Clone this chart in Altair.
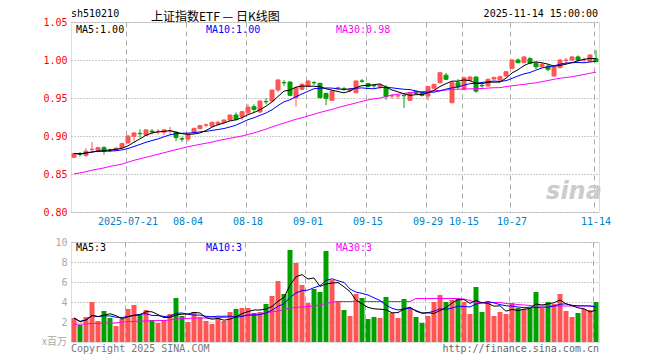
import altair as alt
import pandas as pd

# ---------------- data ----------------
dates = [d.strftime("%Y-%m-%d") for d in pd.bdate_range("2025-07-08", "2025-11-14")
         if not ("2025-10-01" <= d.strftime("%Y-%m-%d") <= "2025-10-08")]

opens = [0.872, 0.8765, 0.8746, 0.8822, 0.880, 0.8846, 0.8815, 0.8815, 0.8846, 0.891,
         0.8996, 0.9035, 0.901, 0.9065, 0.9058, 0.905, 0.9068, 0.905, 0.8965, 0.896,
         0.9043, 0.9096, 0.9143, 0.913, 0.9155, 0.918, 0.921, 0.9276, 0.9254, 0.9307,
         0.9386, 0.9316, 0.9455, 0.946, 0.9605, 0.9703, 0.971, 0.9504, 0.9614, 0.9658,
         0.9703, 0.9693, 0.956, 0.947, 0.962, 0.9625, 0.960, 0.957, 0.9725, 0.969,
         0.9665, 0.965, 0.9645, 0.9527, 0.9527, 0.9533, 0.947, 0.9585, 0.957, 0.9526,
         0.9628, 0.9701, 0.980, 0.9438, 0.970, 0.9614, 0.9733, 0.9776, 0.9665, 0.9658,
         0.975, 0.9737, 0.979, 0.989, 1.000, 0.9965, 1.0017, 0.9957, 0.991, 0.992,
         0.979, 0.990, 0.9992, 1.000, 1.004, 1.000, 0.998, 1.0017]
highs = [0.878, 0.879, 0.884, 0.892, 0.886, 0.8868, 0.8835, 0.885, 0.8915, 0.901,
         0.905, 0.9088, 0.909, 0.909, 0.909, 0.909, 0.912, 0.906, 0.899, 0.903,
         0.911, 0.914, 0.9165, 0.919, 0.920, 0.922, 0.928, 0.931, 0.933, 0.9417,
         0.9417, 0.947, 0.950, 0.961, 0.9745, 0.9737, 0.972, 0.965, 0.970, 0.973,
         0.9725, 0.970, 0.957, 0.960, 0.965, 0.9645, 0.963, 0.973, 0.975, 0.970,
         0.968, 0.969, 0.967, 0.955, 0.955, 0.9555, 0.958, 0.960, 0.958, 0.966,
         0.969, 0.984, 0.983, 0.971, 0.975, 0.978, 0.979, 0.978, 0.968, 0.9755,
         0.978, 0.9795, 0.9855, 1.001, 1.002, 1.005, 1.004, 0.998, 0.996, 0.994,
         0.992, 1.001, 1.003, 1.005, 1.006, 1.003, 1.007, 1.013]
lows = [0.871, 0.873, 0.8724, 0.880, 0.8795, 0.8754, 0.879, 0.881, 0.884, 0.890,
        0.893, 0.8978, 0.900, 0.902, 0.902, 0.9015, 0.9015, 0.893, 0.8925, 0.8925,
        0.9035, 0.909, 0.9115, 0.912, 0.9135, 0.917, 0.920, 0.9205, 0.921, 0.929,
        0.9307, 0.930, 0.9416, 0.945, 0.958, 0.966, 0.953, 0.9386, 0.960, 0.965,
        0.967, 0.9495, 0.9404, 0.946, 0.961, 0.959, 0.958, 0.956, 0.970, 0.964,
        0.962, 0.962, 0.9475, 0.949, 0.9485, 0.937, 0.946, 0.955, 0.952, 0.947,
        0.961, 0.969, 0.9735, 0.943, 0.962, 0.960, 0.9725, 0.957, 0.9635, 0.965,
        0.974, 0.972, 0.978, 0.988, 0.9955, 0.996, 0.995, 0.988, 0.990, 0.985,
        0.978, 0.989, 0.994, 0.999, 0.998, 0.996, 0.997, 0.997]
closes = [0.877, 0.876, 0.880, 0.8826, 0.8846, 0.880, 0.881, 0.884, 0.890, 0.900,
          0.904, 0.903, 0.908, 0.9055, 0.9062, 0.908, 0.9072, 0.898, 0.896, 0.902,
          0.910, 0.9136, 0.9147, 0.918, 0.918, 0.921, 0.9276, 0.922, 0.932, 0.938,
          0.935, 0.946, 0.945, 0.9605, 0.9737, 0.970, 0.9535, 0.9636, 0.968, 0.9724,
          0.970, 0.9504, 0.9496, 0.959, 0.9635, 0.9615, 0.962, 0.9724, 0.972, 0.965,
          0.966, 0.967, 0.9517, 0.953, 0.953, 0.953, 0.957, 0.956, 0.9535, 0.965,
          0.968, 0.9833, 0.9746, 0.9701, 0.9645, 0.9767, 0.9776, 0.959, 0.966, 0.9746,
          0.977, 0.978, 0.9846, 1.000, 0.9965, 1.004, 0.9957, 0.991, 0.9943, 0.9877,
          0.9908, 1.000, 1.000, 1.004, 1.000, 1.0003, 1.0066, 0.998]
ma30 = [0.850, 0.8515, 0.853, 0.855, 0.8565, 0.858, 0.860, 0.8615, 0.863, 0.8655,
        0.868, 0.870, 0.872, 0.874, 0.876, 0.878, 0.880, 0.882, 0.884, 0.886,
        0.8875, 0.889, 0.8905, 0.892, 0.894, 0.8955, 0.897, 0.8985, 0.900, 0.902,
        0.904, 0.9065, 0.909, 0.912, 0.9145, 0.917, 0.9195, 0.922, 0.924, 0.9265,
        0.9286, 0.931, 0.933, 0.935, 0.9375, 0.9395, 0.9415, 0.9435, 0.9455, 0.9475,
        0.949, 0.950, 0.952, 0.954, 0.955, 0.956, 0.957, 0.958, 0.9583, 0.959,
        0.9595, 0.960, 0.9605, 0.9614, 0.9615, 0.962, 0.962, 0.9625, 0.9625, 0.963,
        0.9635, 0.9636, 0.965, 0.966, 0.967, 0.968, 0.969, 0.970, 0.9715, 0.973,
        0.9746, 0.976, 0.977, 0.978, 0.9795, 0.981, 0.9825, 0.984]
volumes = [2.4, 1.7, 2.5, 4.0, 2.1, 3.1, 2.4, 1.6, 2.3, 3.3,
           3.7, 2.7, 3.2, 2.2, 1.9, 2.2, 2.8, 4.4, 2.6, 2.0,
           3.0, 2.5, 2.1, 1.8, 2.4, 2.1, 3.0, 3.3, 3.4, 3.4,
           2.9, 3.0, 3.8, 4.6, 6.1, 4.8, 9.2, 7.9, 5.7, 3.9,
           5.3, 5.0, 9.1, 6.2, 4.1, 3.2, 2.6, 4.8, 4.4, 2.3,
           2.5, 2.4, 4.5, 2.9, 2.4, 4.3, 3.3, 2.5, 1.9, 2.6,
           4.0, 4.7, 4.0, 4.2, 4.3, 4.0, 2.8, 5.5, 3.0, 4.0,
           2.6, 3.0, 2.8, 3.9, 3.4, 3.3, 3.4, 5.0, 3.4, 4.0,
           3.8, 4.8, 3.1, 2.5, 2.9, 3.3, 3.2, 4.0]
vol_ma30 = [1.77, 1.78, 1.8, 1.85, 1.85, 1.88, 1.9, 1.9, 2.0, 2.05,
            2.05, 2.1, 2.1, 2.12, 2.15, 2.15, 2.2, 2.3, 2.35, 2.35,
            2.4, 2.4, 2.4, 2.4, 2.45, 2.45, 2.5, 2.6, 2.65, 2.7,
            2.75, 2.8, 2.95, 3.0, 3.1, 3.25, 3.4, 3.45, 3.5, 3.55,
            3.6, 3.7, 3.85, 3.97, 4.05, 4.05, 4.05, 4.05, 4.05, 4.05,
            4.05, 4.05, 4.05, 4.05, 4.05, 4.05, 4.05, 4.35, 4.35, 4.35,
            4.35, 4.35, 4.35, 4.35, 4.35, 4.3, 4.15, 3.95, 3.95, 3.95,
            3.95, 3.95, 3.85, 3.8, 3.75, 3.7, 3.65, 3.6, 3.6, 3.6,
            3.6, 3.6, 3.6, 3.6, 3.6, 3.6, 3.6, 3.6]

tick_dates = ["2025-07-21", "2025-08-04", "2025-08-18", "2025-09-01", "2025-09-15",
              "2025-09-29", "2025-10-15", "2025-10-27", "2025-11-14"]
price_ticks = [0.80, 0.85, 0.90, 0.95, 1.00, 1.05]
vol_ticks = [2, 4, 6, 8, 10]

code_label = "sh510210"
title_label = "上证指数ETF — 日K线图"
time_label = "2025-11-14 15:00:00"
price_ma_labels = ["MA5:1.00", "MA10:1.00", "MA30:0.98"]
vol_ma_labels = ["MA5:3", "MA10:3", "MA30:3"]
unit_label = "x百万"
copyright_label = "Copyright 2025 SINA.COM"
url_label = "http://finance.sina.com.cn"

df = pd.DataFrame({"idx": range(len(dates)), "date": dates, "open": opens, "high": highs,
                   "low": lows, "close": closes, "ma30": ma30, "vol": volumes, "vma30": vol_ma30})

# ---------------- style ----------------
RED, GREEN = "#ff5555", "#00a000"
BLUE_LBL = "#0082c8"
MONO = "DejaVu Sans Mono"
CJK = "Noto Sans CJK SC"
W, HP, HV = 528, 190, 100

up = alt.condition("datum.close >= datum.open", alt.value(RED), alt.value(GREEN))

def xenc(pi, po, labels):
    return alt.X("date:O", title=None,
                 scale=alt.Scale(paddingInner=pi, paddingOuter=po),
                 axis=alt.Axis(values=tick_dates, labels=labels,
                               labelExpr="datum.value == '2025-07-21' ? datum.value : slice(datum.value, 5)",
                               labelColor=BLUE_LBL, labelFont=MONO, labelFontSize=10, labelAngle=0,
                               labelOverlap=False, labelPadding=4, bandPosition=0,
                               grid=True, gridDash=[5, 4], gridColor="#aaaaaa",
                               domain=False, ticks=False, title=None))

xp = xenc(1 / 3, 1 / 6, True)
xv = xenc(1 / 6, 1 / 12, False)

yp_axis = alt.Axis(values=price_ticks, tickCount=20, format=".2f", labelColor="#ff0000", labelFont=MONO,
                   labelFontSize=10, labelPadding=4, labelOverlap=False, labelBound=False,
                   grid=True, gridDash=[1, 2], gridColor="#999999",
                   domain=False, ticks=False, title=None, minExtent=62, maxExtent=62)
yp_scale = alt.Scale(domain=[0.80, 1.05], nice=False, zero=False)

base = alt.Chart(df)

def txt(s, x, y, color, align="left", font=MONO, size=10, **kw):
    return alt.Chart(pd.DataFrame({"t": [s]})).mark_text(
        align=align, baseline="middle", font=font, fontSize=size, color=color, **kw
    ).encode(text="t:N", x=alt.value(x), y=alt.value(y))

wick = base.mark_rule(strokeWidth=1).encode(
    x=xp, y=alt.Y("low:Q", scale=yp_scale, axis=yp_axis), y2="high:Q", color=up)
body = base.mark_bar(strokeWidth=1).encode(
    x=xp, y=alt.Y("open:Q", scale=yp_scale, title=None), y2="close:Q", fill=up, stroke=up)
l30 = base.mark_line(strokeWidth=1, color="#ff00ff").encode(x=xp, y=alt.Y("ma30:Q", title=None))
l10 = base.mark_line(strokeWidth=1, color="#0000ff").transform_window(
    ma10="mean(close)", frame=[-9, 0], sort=[alt.SortField("idx")]).encode(x=xp, y=alt.Y("ma10:Q", title=None))
l5 = base.mark_line(strokeWidth=1, color="#000000").transform_window(
    ma5="mean(close)", frame=[-4, 0], sort=[alt.SortField("idx")]).encode(x=xp, y=alt.Y("ma5:Q", title=None))

price = alt.layer(
    wick, body, l30, l10, l5,
    txt("sina", 503, 170, "#cccccc", align="center", font="DejaVu Sans", size=24,
        fontStyle="italic", fontWeight="bold"),
    txt(price_ma_labels[0], 5, 7.5, "#000000"),
    txt(price_ma_labels[1], 135, 7.5, "#0000ff"),
    txt(price_ma_labels[2], 265, 7.5, "#ff00ff"),
    txt(code_label, 0, -8, "#000000"),
    txt(title_label, 80, -5, "#000000", font=CJK, size=12),
    txt(time_label, 527, -8, "#000000", align="right"),
).properties(width=W, height=HP)

yv_axis = alt.Axis(values=vol_ticks, tickCount=20, format="d", labelColor="#aaaaaa", labelFont=MONO,
                   labelFontSize=10, labelPadding=4, labelOverlap=False, labelBound=False,
                   grid=True, gridDash=[1, 2], gridColor="#999999",
                   domain=False, ticks=False, title=None, minExtent=62, maxExtent=62)
yv_scale = alt.Scale(domain=[0, 10], nice=False)

vbar = base.mark_bar().encode(x=xv, y=alt.Y("vol:Q", scale=yv_scale, axis=yv_axis), fill=up)
v30 = base.mark_line(strokeWidth=1, color="#ff00ff").encode(x=xv, y=alt.Y("vma30:Q", title=None))
v10 = base.mark_line(strokeWidth=1, color="#0000ff").transform_window(
    vma10="mean(vol)", frame=[-9, 0], sort=[alt.SortField("idx")]).encode(x=xv, y=alt.Y("vma10:Q", title=None))
v5 = base.mark_line(strokeWidth=1, color="#000000").transform_window(
    vma5="mean(vol)", frame=[-4, 0], sort=[alt.SortField("idx")]).encode(x=xv, y=alt.Y("vma5:Q", title=None))

volume = alt.layer(
    vbar, v30, v10, v5,
    txt(vol_ma_labels[0], 5, 6, "#000000"),
    txt(vol_ma_labels[1], 135, 6, "#0000ff"),
    txt(vol_ma_labels[2], 265, 6, "#ff00ff"),
    txt(unit_label, -4, 100, "#aaaaaa", align="right", font=CJK, size=10),
    txt(copyright_label, 0, 107, "#777777"),
    txt(url_label, 528, 107, "#666666", align="right"),
).properties(width=W, height=HV)

chart = alt.vconcat(price, volume, spacing=9, padding=0).resolve_scale(
    x="independent").configure_view(stroke="#999999", strokeWidth=1).configure(background="white")

chart.save("out.html", embed_options={"renderer": "svg", "actions": False})
